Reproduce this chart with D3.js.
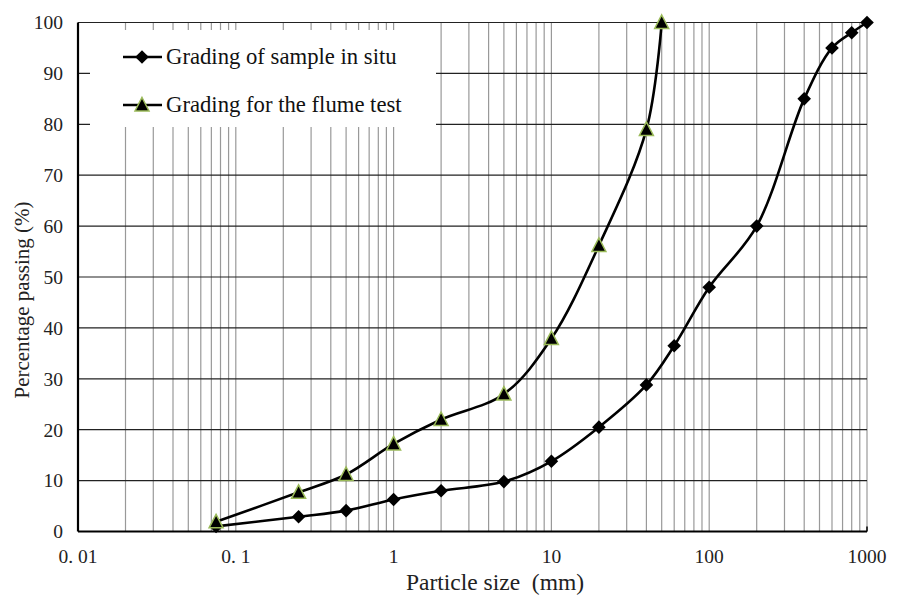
<!doctype html>
<html>
<head>
<meta charset="utf-8">
<title>Particle size distribution</title>
<script src="https://d3js.org/d3.v7.min.js"></script>
</head>
<body style="margin:0">
<div id="plot"></div>
<script>
// particle size (mm) and percentage passing
const sizeInSitu = [0.075, 0.25, 0.5, 1, 2, 5, 10, 20, 40, 60, 100, 200, 400, 600, 800, 1000];
const passInSitu = [1.0, 2.9, 4.1, 6.3, 8.0, 9.8, 13.8, 20.5, 28.8, 36.5, 48.0, 60.0, 85.0, 95.0, 98.0, 100];

const sizeFlume = [0.075, 0.25, 0.5, 1, 2, 5, 10, 20, 40, 50];
const passFlume = [1.9, 7.7, 11.2, 17.2, 22.0, 27.0, 37.9, 56.2, 79.0, 100];

const xTicks = [0.01, 0.1, 1, 10, 100, 1000];
const xTickLabels = ["0. 01", "0. 1", "1", "10", "100", "1000"];
const yTicks = [0, 10, 20, 30, 40, 50, 60, 70, 80, 90, 100];

const seriesNames = ["Grading of sample in situ", "Grading for the flume test"];

const FONT = "'Liberation Serif'";

const W = 897, H = 597;
const margin = {top: 22.5, right: 30, bottom: 65.5, left: 78};
const width = W - margin.left - margin.right,
      height = H - margin.top - margin.bottom;

const svg = d3.select("#plot").append("svg")
  .attr("width", W).attr("height", H);
const g = svg.append("g")
  .attr("transform", `translate(${margin.left},${margin.top})`);

const x = d3.scaleLog().domain([0.01, 1000]).range([0, width]);
const y = d3.scaleLinear().domain([0, 100]).range([height, 0]);

// vertical grid: 1..9 in every decade
const minor = [];
for (let e = -2; e < 3; e++) {
  for (let k = 1; k <= 9; k++) minor.push(k * Math.pow(10, e));
}
minor.push(1000);

g.append("g").selectAll("line")
  .data(minor.filter(v => v > 0.01))
  .join("line")
  .attr("x1", d => x(d)).attr("x2", d => x(d))
  .attr("y1", 0).attr("y2", height)
  .attr("stroke", "#999").attr("stroke-width", 1.2);

// horizontal grid
g.append("g").selectAll("line")
  .data(yTicks.filter(v => v > 0))
  .join("line")
  .attr("x1", 0).attr("x2", width)
  .attr("y1", d => y(d)).attr("y2", d => y(d))
  .attr("stroke", "#222").attr("stroke-width", 1.2);

// axes lines
g.append("line").attr("x1", 0).attr("x2", 0).attr("y1", 0).attr("y2", height)
  .attr("stroke", "#000").attr("stroke-width", 2.2);
g.append("line").attr("x1", 0).attr("x2", width).attr("y1", height).attr("y2", height)
  .attr("stroke", "#000").attr("stroke-width", 2.2);
g.append("line").attr("x1", width).attr("x2", width).attr("y1", height - 5).attr("y2", height)
  .attr("stroke", "#000").attr("stroke-width", 1.5);

// tick labels
g.append("g").selectAll("text")
  .data(yTicks)
  .join("text")
  .attr("x", -15).attr("y", d => y(d))
  .attr("dy", "0.35em")
  .attr("text-anchor", "end")
  .attr("font-family", FONT).attr("font-size", 19.5)
  .attr("fill", "#222")
  .text(d => d);

g.append("g").selectAll("text")
  .data(xTicks)
  .join("text")
  .attr("x", d => x(d)).attr("y", height + 31)
  .attr("text-anchor", "middle")
  .attr("font-family", FONT).attr("font-size", 19.5)
  .attr("fill", "#222")
  .text((d, i) => xTickLabels[i]);

// axis titles
svg.append("text")
  .attr("x", 495).attr("y", 590)
  .attr("text-anchor", "middle")
  .attr("font-family", FONT).attr("font-size", 23.5)
  .attr("fill", "#222")
  .text("Particle size\u00A0 (mm)");

svg.append("text")
  .attr("transform", "translate(29,300) rotate(-90)")
  .attr("text-anchor", "middle")
  .attr("font-family", FONT).attr("font-size", 21)
  .attr("fill", "#222")
  .text("Percentage passing (%)");

// legend box (hides the grid behind it)
svg.append("rect")
  .attr("x", 90).attr("y", 30).attr("width", 346).attr("height", 97)
  .attr("fill", "#fff");

const line = d3.line()
  .x(d => x(d[0])).y(d => y(d[1]))
  .curve(d3.curveCatmullRom.alpha(0.5));

const dataInSitu = sizeInSitu.map((s, i) => [s, passInSitu[i]]);
const dataFlume = sizeFlume.map((s, i) => [s, passFlume[i]]);

const diamond = "M0,-6.8L6.8,0L0,6.8L-6.8,0Z";
const triangle = "M0,-7.5L7,6L-7,6Z";

g.append("path").datum(dataFlume)
  .attr("d", line).attr("fill", "none")
  .attr("stroke", "#000").attr("stroke-width", 2.6);
g.append("path").datum(dataInSitu)
  .attr("d", line).attr("fill", "none")
  .attr("stroke", "#000").attr("stroke-width", 2.6);

g.append("g").selectAll("path")
  .data(dataInSitu)
  .join("path")
  .attr("transform", d => `translate(${x(d[0])},${y(d[1])})`)
  .attr("d", diamond).attr("fill", "#000");

g.append("g").selectAll("path")
  .data(dataFlume)
  .join("path")
  .attr("transform", d => `translate(${x(d[0])},${y(d[1])})`)
  .attr("d", triangle).attr("fill", "#000")
  .attr("stroke", "#9bbb59").attr("stroke-width", 1.5);

// legend entries
const legY = [57, 105];
const legend = svg.append("g");
legY.forEach((ly, i) => {
  legend.append("line")
    .attr("x1", 123).attr("x2", 162).attr("y1", ly).attr("y2", ly)
    .attr("stroke", "#000").attr("stroke-width", 2.6);
  legend.append("path")
    .attr("transform", `translate(142,${ly})`)
    .attr("d", i === 0 ? diamond : triangle)
    .attr("fill", "#000")
    .attr("stroke", i === 0 ? "none" : "#9bbb59")
    .attr("stroke-width", 1.5);
  legend.append("text")
    .attr("x", 166).attr("y", ly)
    .attr("dy", "0.33em")
    .attr("font-family", FONT).attr("font-size", 22.7)
    .attr("fill", "#111")
    .text(seriesNames[i]);
});
</script>
</body>
</html>
